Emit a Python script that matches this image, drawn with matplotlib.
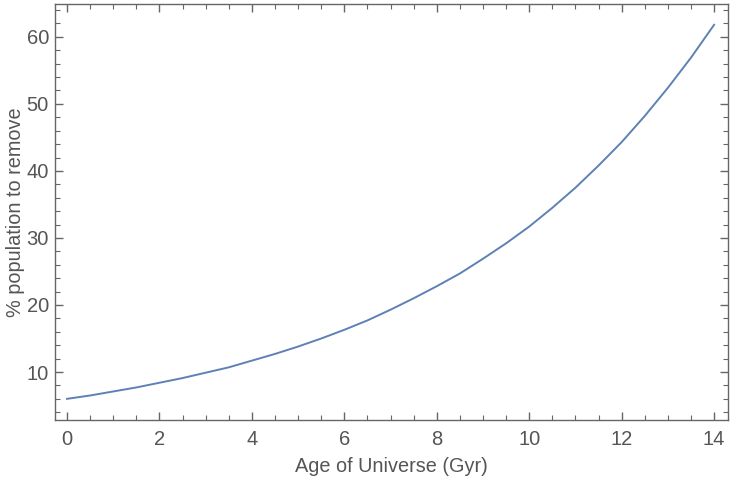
import matplotlib
matplotlib.use('Agg')
import matplotlib.pyplot as plt
from matplotlib.ticker import MultipleLocator

# values (every 0.5 Gyr)
age = [0, 0.5, 1, 1.5, 2, 2.5, 3, 3.5, 4, 4.5, 5, 5.5, 6, 6.5, 7,
       7.5, 8, 8.5, 9, 9.5, 10, 10.5, 11, 11.5, 12, 12.5, 13, 13.5, 14]
pct_remove = [6.0, 6.5, 7.1, 7.7, 8.4, 9.1, 9.9, 10.7, 11.7, 12.7, 13.8, 15.0, 16.3, 17.7, 19.3,
              21.0, 22.8, 24.7, 26.9, 29.2, 31.7, 34.5, 37.5, 40.8, 44.3, 48.2, 52.4, 56.9, 61.8]

plt.rcParams['font.family'] = ['Liberation Sans', 'DejaVu Sans']
frame_col = '#666666'
text_col = '#555555'

fig = plt.figure(figsize=(7.32, 4.78), dpi=100)
ax = fig.add_axes([0.0745, 0.1213, 0.92, 0.8703])

ax.plot(age, pct_remove, color='#5E81B5', lw=1.4)

ax.set_xlim(-0.27, 14.3)
ax.set_ylim(2.84, 64.9)

ax.xaxis.set_major_locator(MultipleLocator(2))
ax.xaxis.set_minor_locator(MultipleLocator(0.5))
ax.yaxis.set_major_locator(MultipleLocator(10))
ax.yaxis.set_minor_locator(MultipleLocator(2))

for s in ax.spines.values():
    s.set_color(frame_col)
    s.set_linewidth(1.0)

ax.tick_params(which='both', direction='in', top=True, right=True,
               color=frame_col, labelcolor=text_col, labelsize=14.5)
ax.tick_params(which='major', length=6, width=1.0)
ax.tick_params(which='minor', length=3.5, width=0.8)
ax.tick_params(axis='x', pad=7)
ax.tick_params(axis='y', pad=4)

ax.set_xlabel('Age of Universe (Gyr)', fontsize=14.3, color=text_col, labelpad=6)
ax.set_ylabel('% population to remove', fontsize=14.3, color=text_col, labelpad=1)

fig.savefig('out.png', dpi=100)
